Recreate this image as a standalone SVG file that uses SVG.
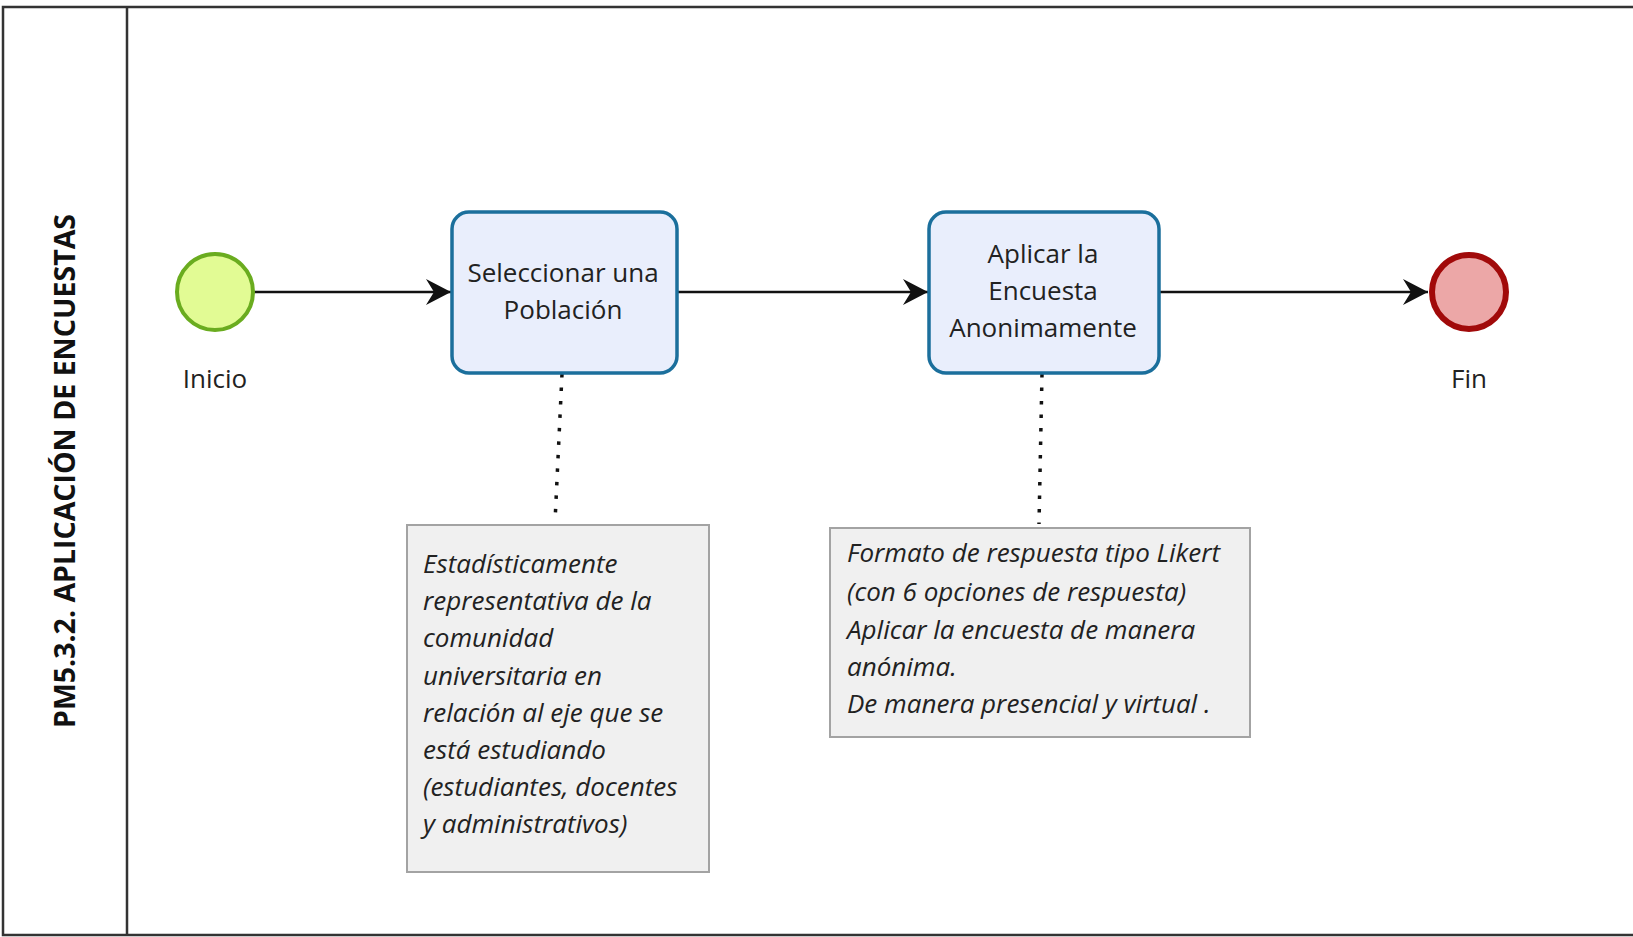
<svg xmlns="http://www.w3.org/2000/svg" width="1633" height="937" viewBox="0 0 1633 937">
<style>
.frame{fill:none;stroke:#333;stroke-width:2.5}
.task{fill:#e9eefc;stroke:#1b6f9c;stroke-width:3.5}
.tt{font-family:"Open Sans","DejaVu Sans",sans-serif;font-size:26px;fill:#222;text-anchor:middle}
.lbl{font-family:"Open Sans","DejaVu Sans",sans-serif;font-size:26px;fill:#222;text-anchor:middle}
.ann{fill:#f0f0f0;stroke:#a3a3a3;stroke-width:2}
.at{font-family:"Open Sans","DejaVu Sans",sans-serif;font-style:italic;font-size:26px;fill:#222}
.flow{fill:none;stroke:#111;stroke-width:2.5}
.assoc{fill:none;stroke:#111;stroke-width:3.5;stroke-dasharray:3.5 10}
</style>
<defs>
<marker id="arr" markerUnits="userSpaceOnUse" viewBox="-26 -15 28 30" refX="0" refY="0" markerWidth="28" markerHeight="30" orient="auto">
<path d="M0,0 L-25,-13 L-17,0 L-25,13 Z" fill="#111"/>
</marker>
</defs>
<rect width="1633" height="937" fill="#fff"/>
<g id="pool">
<path class="frame" d="M1633,7 H3 V935 H1633"/>
<line class="frame" x1="127" y1="7" x2="127" y2="935"/>
<text transform="translate(75,471) rotate(-90)" text-anchor="middle" font-family="'Open Sans','DejaVu Sans',sans-serif" font-weight="bold" font-size="28.5" fill="#111">PM5.3.2. APLICACIÓN DE ENCUESTAS</text>
</g>
<g id="connectors">
<line class="flow" x1="253" y1="292" x2="451" y2="292" marker-end="url(#arr)"/>
<line class="flow" x1="677" y1="292" x2="928" y2="292" marker-end="url(#arr)"/>
<line class="flow" x1="1159" y1="292" x2="1428" y2="292" marker-end="url(#arr)"/>
<line class="assoc" x1="562" y1="374" x2="555" y2="522"/>
<line class="assoc" x1="1042" y1="374" x2="1039" y2="524"/>
</g>
<g id="start">
<circle cx="215" cy="292" r="38" fill="#e2fb94" stroke="#6aac1f" stroke-width="4"/>
<text class="lbl" x="215" y="388">Inicio</text>
</g>
<g id="task1">
<rect class="task" x="452" y="212" width="225" height="161" rx="17"/>
<text class="tt" x="563" y="282">Seleccionar una</text>
<text class="tt" x="563" y="319">Población</text>
</g>
<g id="task2">
<rect class="task" x="929" y="212" width="230" height="161" rx="17"/>
<text class="tt" x="1043" y="263">Aplicar la</text>
<text class="tt" x="1043" y="300">Encuesta</text>
<text class="tt" x="1043" y="337">Anonimamente</text>
</g>
<g id="end">
<circle cx="1469" cy="292" r="37" fill="#eca7a7" stroke="#a10a0a" stroke-width="6"/>
<text class="lbl" x="1469" y="388">Fin</text>
</g>
<g id="annotation1">
<rect class="ann" x="407" y="525" width="302" height="347"/>
<text class="at" x="423" y="573">Estadísticamente</text>
<text class="at" x="423" y="610">representativa de la</text>
<text class="at" x="423" y="647">comunidad</text>
<text class="at" x="423" y="685">universitaria en</text>
<text class="at" x="423" y="722">relación al eje que se</text>
<text class="at" x="423" y="759">está estudiando</text>
<text class="at" x="423" y="796">(estudiantes, docentes</text>
<text class="at" x="423" y="833">y administrativos)</text>
</g>
<g id="annotation2">
<rect class="ann" x="830" y="528" width="420" height="209"/>
<text class="at" x="847" y="562">Formato de respuesta tipo Likert</text>
<text class="at" x="847" y="601">(con 6 opciones de respuesta)</text>
<text class="at" x="847" y="639">Aplicar la encuesta de manera</text>
<text class="at" x="847" y="676">anónima.</text>
<text class="at" x="847" y="713">De manera presencial y virtual .</text>
</g>
</svg>
